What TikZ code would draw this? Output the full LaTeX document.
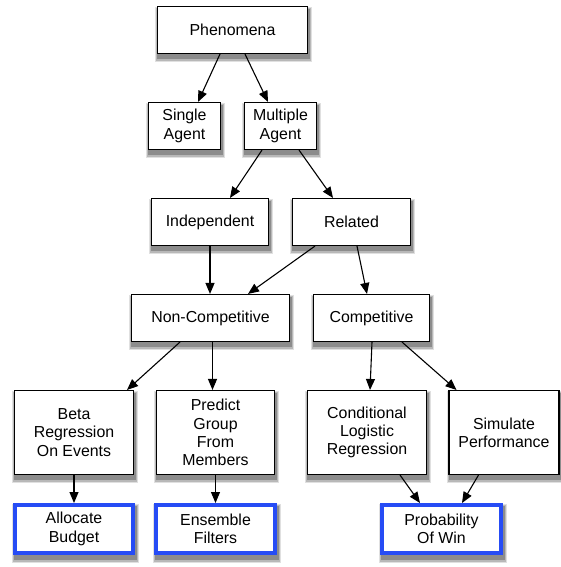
\documentclass[tikz,border=0pt]{standalone}
\usepackage{fontspec}
\setmainfont{Liberation Sans}
\usetikzlibrary{arrows.meta,backgrounds,calc}
\definecolor{boxblue}{RGB}{38,76,245}
\begin{document}
\begin{tikzpicture}[x=1pt,y=-1pt,
  every node/.style={font=\fontsize{15.9}{18.3}\selectfont, align=center, inner sep=0pt},
  box/.style={draw=black, line width=1.1pt, fill=white},
  goal/.style={draw=boxblue, line width=4pt, fill=white},
  arr/.style={draw=black, line width=1.1pt, -{Triangle[length=11pt,width=9pt]}}]
\useasboundingbox (0,0) rectangle (560,567);
% row 1
\node[box, minimum width=150pt, minimum height=47pt] (phen) at (232.5,30) {Phenomena};
% row 2
\node[box, minimum width=72pt, minimum height=47pt] (single) at (184.5,126) {Single\\Agent};
\node[box, minimum width=72pt, minimum height=47pt] (multi) at (280.5,126) {Multiple\\Agent};
% row 3
\node[box, minimum width=117pt, minimum height=47pt] (indep) at (210,222) {Independent};
\node[box, minimum width=118pt, minimum height=47pt] (rel) at (351.5,222) {Related};
% row 4
\node[box, minimum width=158pt, minimum height=47pt] (noncomp) at (210.5,318) {Non-Competitive};
\node[box, minimum width=116pt, minimum height=47pt] (comp) at (371.5,318) {Competitive};
% row 5
\node[box, minimum width=119pt, minimum height=84pt] (beta) at (74,432.5) {Beta\\Regression\\On Events};
\node[box, minimum width=118pt, minimum height=84pt] (pred) at (215.5,432.5) {Predict\\Group\\From\\Members};
\node[box, minimum width=119pt, minimum height=84pt] (cond) at (367,432.5) {Conditional\\Logistic\\Regression};
\node[box, minimum width=110pt, minimum height=84pt] (sim) at (504,432.5) {Simulate\\Performance};
% row 6
\node[goal, minimum width=118pt, minimum height=48pt] (alloc) at (74,529) {Allocate\\Budget};
\node[goal, minimum width=119pt, minimum height=48pt] (ens) at (215.5,529) {Ensemble\\Filters};
\node[goal, minimum width=119pt, minimum height=48pt] (prob) at (441.5,529) {Probability\\Of Win};
% shadows
\begin{scope}[on background layer]
\foreach \n in {phen,single,multi,indep,rel,noncomp,comp,beta,pred,cond,sim,alloc,ens,prob}{
  \fill[black!12] ([xshift=-1.5pt,yshift=-8pt]\n.south west) rectangle ([xshift=3.5pt,yshift=-1pt]\n.north east);
  \fill[black!28] ([xshift=-0.5pt,yshift=-6.5pt]\n.south west) rectangle ([xshift=2.5pt,yshift=-2pt]\n.north east);
  \fill[black!45] ([xshift=0.5pt,yshift=-5pt]\n.south west) rectangle ([xshift=1.5pt,yshift=-3pt]\n.north east);
}
\end{scope}
% connectors
\draw[arr] ([xshift=-12.5pt]phen.south) -- ([xshift=13.5pt]single.north);
\draw[arr] ([xshift=12.5pt]phen.south) -- ([xshift=-12.5pt]multi.north);
\draw[arr] ([xshift=-18.5pt]multi.south) -- ([xshift=20pt]indep.north);
\draw[arr] ([xshift=18.5pt]multi.south) -- ([xshift=-18.5pt]rel.north);
\draw[arr] (indep.south) -- (indep.south |- noncomp.north);
\draw[arr] ([xshift=-36.5pt]rel.south) -- ([xshift=37.5pt]noncomp.north);
\draw[arr] ([xshift=5.5pt]rel.south) -- ([xshift=-4.5pt]comp.north);
\draw[arr] ([xshift=-30.5pt]noncomp.south) -- ([xshift=53pt]beta.north);
\draw[arr] ([xshift=-3pt]pred.north |- noncomp.south) -- ([xshift=-3pt]pred.north);
\draw[arr] ([xshift=0.5pt]comp.south) -- ([xshift=3pt]cond.north);
\draw[arr] ([xshift=30.5pt]comp.south) -- ([xshift=-47.5pt]sim.north);
\draw[arr] (beta.south) -- (alloc.north);
\draw[arr] (pred.south) -- (ens.north);
\draw[arr] ([xshift=33pt]cond.south) -- ([xshift=-21.5pt]prob.north);
\draw[arr] ([xshift=-25.5pt]sim.south) -- ([xshift=20.5pt]prob.north);
\end{tikzpicture}
\end{document}
